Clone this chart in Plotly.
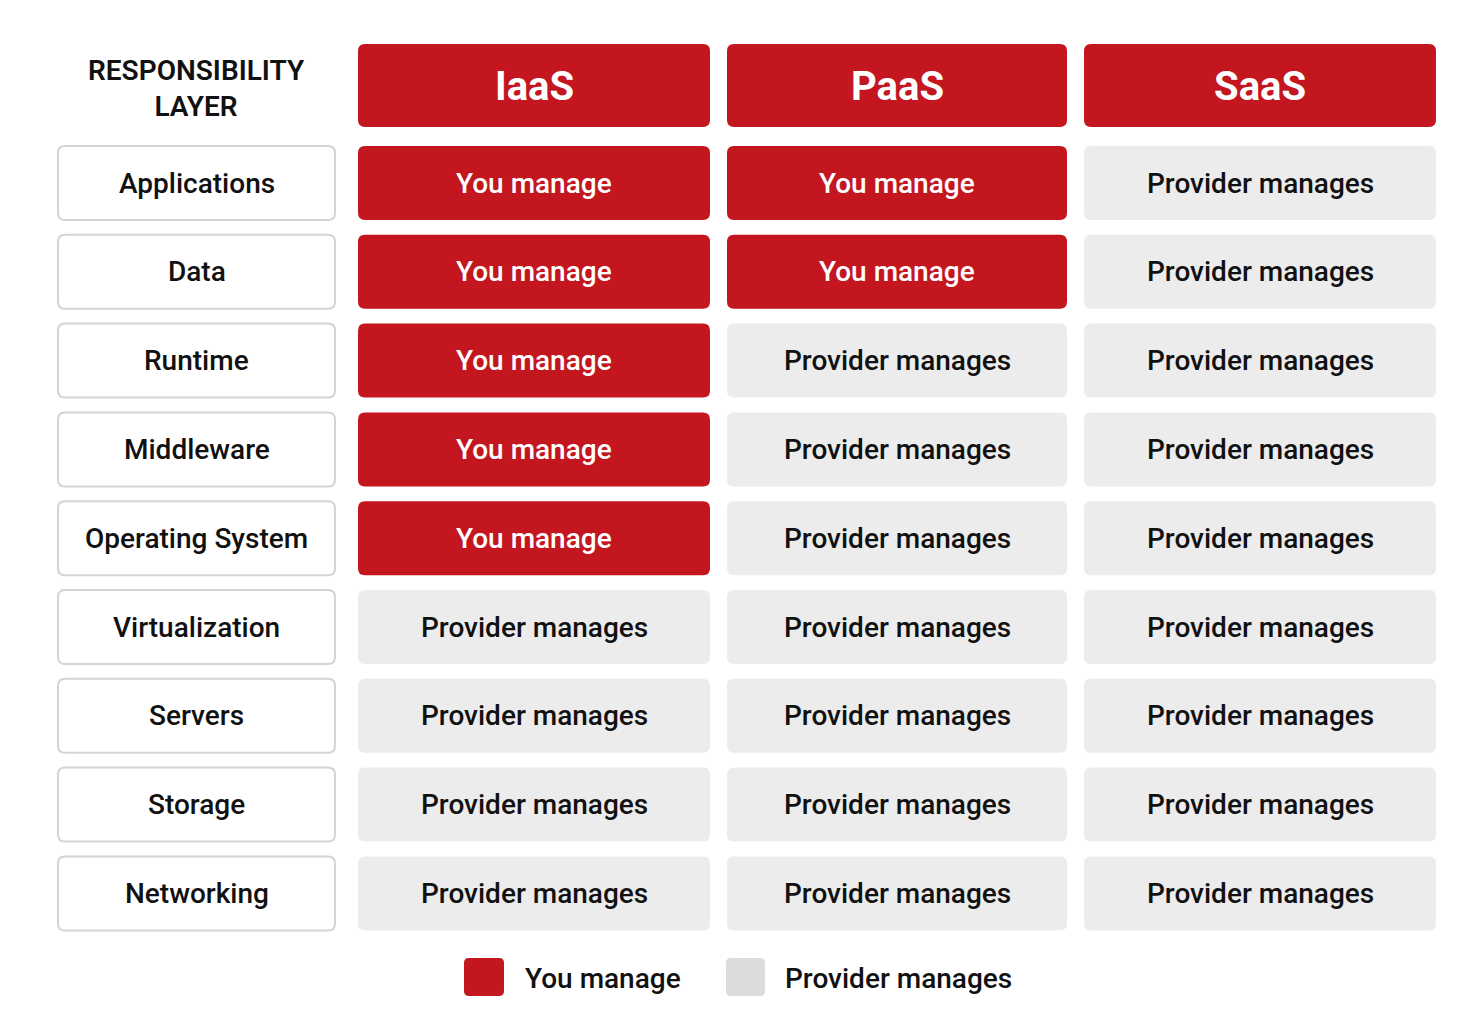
import plotly.graph_objects as go

layers = ["Applications", "Data", "Runtime", "Middleware", "Operating System",
          "Virtualization", "Servers", "Storage", "Networking"]
services = ["IaaS", "PaaS", "SaaS"]
# who manages each layer, per service (Y = you, P = provider)
iaas = ["Y", "Y", "Y", "Y", "Y", "P", "P", "P", "P"]
paas = ["Y", "Y", "P", "P", "P", "P", "P", "P", "P"]
saas = ["P", "P", "P", "P", "P", "P", "P", "P", "P"]
matrix = [iaas, paas, saas]
labels = {"Y": "You manage", "P": "Provider manages"}

RED = "#c3161f"
GREY = "#ececed"
FONT = "Roboto"

# column edges (px) and row geometry
label_col = (50, 327)
cols = [(350, 702), (719, 1059), (1076, 1428)]
row_top, row_pitch, row_h = 138, 88.8, 74

fig = go.Figure()
shapes, annotations = [], []


def rbox(x0, y0, x1, y1, fill, line="rgba(0,0,0,0)", r=7, lw=1):
    p = (f"M{x0+r},{y0} L{x1-r},{y0} Q{x1},{y0} {x1},{y0+r} L{x1},{y1-r} "
         f"Q{x1},{y1} {x1-r},{y1} L{x0+r},{y1} Q{x0},{y1} {x0},{y1-r} "
         f"L{x0},{y0+r} Q{x0},{y0} {x0+r},{y0} Z")
    shapes.append(dict(type="path", path=p, xref="x", yref="y", fillcolor=fill,
                       line=dict(color=line, width=lw), layer="below"))


def text(x, y, s, size, color="#111", weight=500):
    annotations.append(dict(x=x, y=y, xref="x", yref="y", text=s, showarrow=False,
                            font=dict(family=FONT, size=size, color=color, weight=weight)))


text(sum(label_col) / 2, 80, "RESPONSIBILITY<br>LAYER", 28, weight=600)
for (x0, x1), s in zip(cols, services):
    rbox(x0, 36, x1, 119, RED)
    text((x0 + x1) / 2, 78, s, 40, "white", 700)

for i, layer in enumerate(layers):
    y0 = row_top + i * row_pitch
    y1 = y0 + row_h
    rbox(label_col[0], y0, label_col[1], y1, "white", "#d4d4d4", lw=2)
    text(sum(label_col) / 2, (y0 + y1) / 2, layer, 28)
    for (x0, x1), col in zip(cols, matrix):
        v = col[i]
        rbox(x0, y0, x1, y1, RED if v == "Y" else GREY)
        text((x0 + x1) / 2, (y0 + y1) / 2, labels[v], 28,
             "white" if v == "Y" else "#111")

# legend
rbox(456, 950, 496, 988, RED, r=5)
annotations.append(dict(x=515, y=970, xref="x", yref="y", text="You manage", showarrow=False,
                        xanchor="left", font=dict(family=FONT, size=28, color="#111", weight=500)))
rbox(718, 950, 757, 988, "#dcdcdc", r=5)
annotations.append(dict(x=775, y=970, xref="x", yref="y", text="Provider manages", showarrow=False,
                        xanchor="left", font=dict(family=FONT, size=28, color="#111", weight=500)))

fig.update_layout(
    width=1478, height=1024, margin=dict(l=0, r=0, t=0, b=0),
    paper_bgcolor="white", plot_bgcolor="white",
    shapes=shapes, annotations=annotations, showlegend=False,
    xaxis=dict(range=[0, 1478], visible=False, fixedrange=True),
    yaxis=dict(range=[1024, 0], visible=False, fixedrange=True),
)
fig.write_html("out.html")
